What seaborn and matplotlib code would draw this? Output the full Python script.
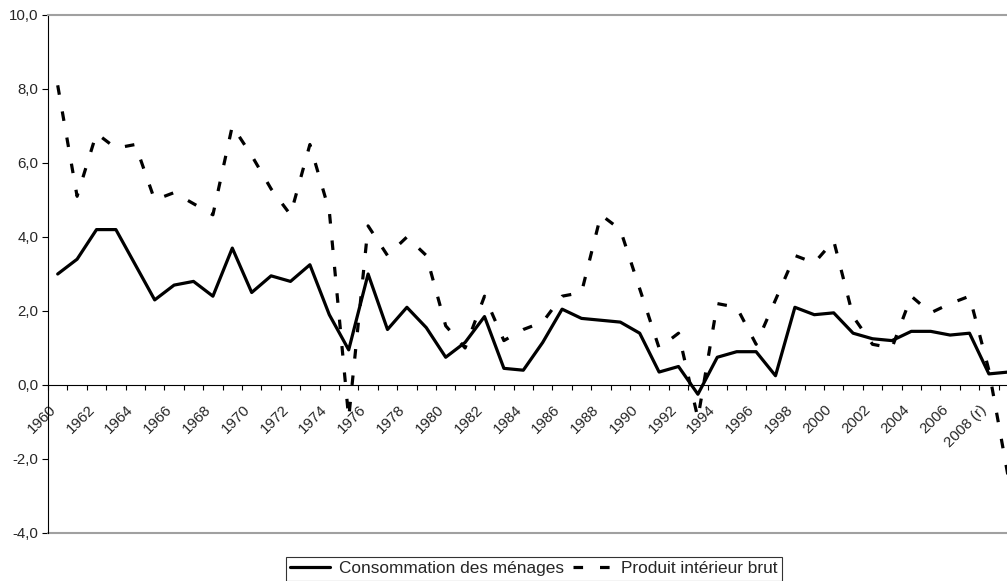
import matplotlib
matplotlib.use("Agg")
import matplotlib.pyplot as plt
import matplotlib.transforms as mtransforms
import seaborn as sns
from matplotlib.ticker import FixedLocator, FuncFormatter

# ==============================
# DATA
# ==============================
annees = list(range(1960, 2010))

conso = [3.0, 3.4, 4.2, 4.2, 3.25, 2.3, 2.7, 2.8, 2.4, 3.7,
         2.5, 2.95, 2.8, 3.25, 1.9, 0.95, 3.0, 1.5, 2.1, 1.55,
         0.75, 1.15, 1.85, 0.45, 0.4, 1.15, 2.05, 1.8, 1.75, 1.7,
         1.4, 0.35, 0.5, -0.25, 0.75, 0.9, 0.9, 0.25, 2.1, 1.9,
         1.95, 1.4, 1.25, 1.2, 1.45, 1.45, 1.35, 1.4, 0.3, 0.35]

pib = [8.1, 5.1, 6.8, 6.4, 6.5, 5.0, 5.2, 4.9, 4.6, 7.0,
       6.2, 5.3, 4.6, 6.5, 4.7, -0.9, 4.3, 3.5, 4.0, 3.5,
       1.6, 1.0, 2.4, 1.2, 1.5, 1.7, 2.4, 2.5, 4.6, 4.2,
       2.6, 1.0, 1.4, -0.9, 2.2, 2.1, 1.1, 2.3, 3.5, 3.3,
       3.9, 1.85, 1.1, 1.0, 2.4, 1.95, 2.2, 2.4, 0.4, -2.5]

label_years = list(range(1960, 2009, 2))
label_text = [str(a) if a != 2008 else "2008 (r)" for a in label_years]
y_ticks = [-4, -2, 0, 2, 4, 6, 8, 10]

# ==============================
# STYLE
# ==============================
sns.set_style("white")
plt.rcParams["font.family"] = ["Liberation Sans", "DejaVu Sans"]

fig = plt.figure(figsize=(10.07, 5.81), dpi=100)
# plot area runs past the right edge, as in the reference
ax = fig.add_axes([48 / 1007, 1 - 533 / 581, 970 / 1007, 518 / 581])

sns.lineplot(x=annees, y=conso, ax=ax, color="black", lw=2.3,
             label="Consommation des ménages")
sns.lineplot(x=annees, y=pib, ax=ax, color="black", lw=2.3,
             linestyle=(0, (3.0, 5.3)), label="Produit intérieur brut")

ax.set_xlim(1959.5, 2009.5)
ax.set_ylim(-4, 10)

# axes / frame
ax.spines["bottom"].set_position(("data", 0))
ax.spines["bottom"].set_color("black")
ax.spines["bottom"].set_linewidth(0.8)
ax.spines["left"].set_color("black")
ax.spines["left"].set_linewidth(0.8)
for side in ["top", "right"]:
    ax.spines[side].set_color("#a0a0a0")
    ax.spines[side].set_linewidth(1.5)
ax.axhline(-4, color="#a0a0a0", lw=1.5, clip_on=False)

# y axis
ax.yaxis.set_major_locator(FixedLocator(y_ticks))
ax.yaxis.set_major_formatter(FuncFormatter(lambda v, p: f"{v:.1f}".replace(".", ",")))
ax.tick_params(axis="y", direction="out", length=4, width=0.8, pad=3,
               labelsize=10.8, color="black", left=True)

# x axis: marks between categories, labels every two years
ax.set_xticks(label_years)
ax.set_xticklabels(label_text)
ax.set_xticks([a - 0.5 for a in annees] + [2009.5], minor=True)
ax.tick_params(axis="x", which="major", length=0, pad=16, labelsize=10.8)
ax.tick_params(axis="x", which="minor", direction="out", length=3.5,
               width=0.8, color="black", bottom=True)
shift = mtransforms.ScaledTranslation(-4 / 100, 0, fig.dpi_scale_trans)
for lab in ax.get_xticklabels():
    lab.set_rotation(45)
    lab.set_ha("right")
    lab.set_va("center")
    lab.set_rotation_mode("anchor")
    lab.set_transform(lab.get_transform() + shift)

ax.set_xlabel("")
ax.set_ylabel("")
ax.grid(False)

# legend under the plot area
leg = ax.legend(loc="upper center", bbox_to_anchor=(534 / 1007, 1 - 557 / 581),
                bbox_transform=fig.transFigure, ncol=2, frameon=True,
                fancybox=False, shadow=False, fontsize=12.4, borderaxespad=0,
                handlelength=2.3, handletextpad=0.5, columnspacing=0.55,
                borderpad=0.25)
leg.get_frame().set_edgecolor("black")
leg.get_frame().set_linewidth(0.8)

fig.savefig("out.png", dpi=100)
